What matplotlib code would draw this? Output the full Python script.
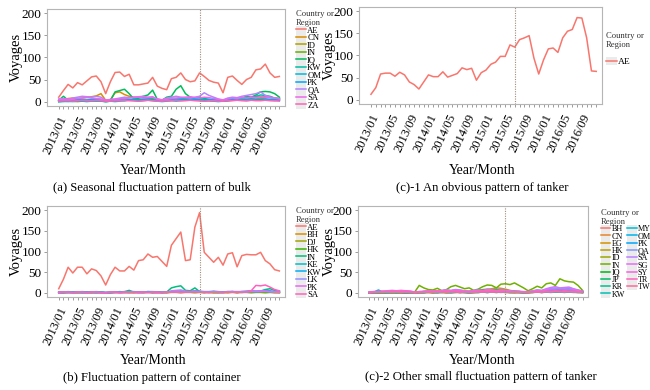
import numpy as np
import matplotlib
matplotlib.use('Agg')
import matplotlib.pyplot as plt
from matplotlib.patches import Rectangle

plt.rcParams['font.family'] = ['Liberation Serif', 'DejaVu Serif']

# ---------------- data ----------------
months = [f"{y}/{m:02d}" for y in range(2013, 2017) for m in range(1, 13)]
tick_labels = months[::4]
split_month = "2015/07"

# (a) bulk
bulk_names = ["AE", "CN", "ID", "IN", "IQ", "KW", "OM", "PK", "QA", "SA", "ZA"]
AE_a = [10, 25, 39, 31, 43, 38, 47, 56, 58, 45, 18, 45, 66, 67, 57, 62, 38, 38, 40, 42, 55, 35, 30, 27,
        52, 55, 65, 50, 45, 47, 65, 57, 48, 44, 42, 20, 55, 58, 48, 39, 50, 55, 72, 74, 85, 65, 55, 57]
CN_a = [2, 5, 7, 8, 7, 8, 10, 11, 13, 18, 3, 4, 20, 22, 16, 12, 10, 10, 9, 8, 8, 5, 4, 6,
        8, 7, 6, 8, 9, 7, 5, 6, 4, 3, 3, 2, 4, 5, 6, 5, 6, 7, 8, 6, 9, 10, 8, 7]
ID_a = [1, 2, 3, 2, 3, 4, 3, 5, 4, 3, 1, 2, 4, 5, 6, 4, 3, 4, 5, 4, 3, 2, 1, 2,
        3, 4, 5, 6, 4, 3, 4, 3, 2, 2, 1, 1, 2, 3, 4, 3, 4, 5, 4, 6, 5, 4, 5, 4]
IN_a = [0, 1, 2, 1, 0, 1, 2, 3, 2, 1, 0, 1, 3, 5, 4, 3, 6, 8, 9, 7, 8, 4, 2, 3,
        5, 6, 8, 7, 6, 5, 6, 4, 3, 2, 1, 1, 3, 5, 6, 4, 8, 9, 12, 10, 11, 9, 8, 6]
IQ_a = [3, 12, 3, 2, 3, 2, 3, 2, 3, 2, 1, 2, 22, 25, 28, 18, 6, 8, 12, 15, 26, 5, 3, 10,
        12, 28, 36, 18, 10, 8, 10, 7, 5, 4, 3, 2, 5, 8, 6, 8, 12, 10, 15, 22, 23, 22, 18, 10]
KW_a = [0, 0, 1, 0, 1, 2, 1, 2, 1, 2, 0, 1, 2, 3, 2, 4, 5, 4, 3, 5, 4, 2, 1, 3,
        4, 5, 6, 5, 6, 8, 6, 5, 4, 3, 2, 1, 2, 4, 6, 8, 10, 9, 12, 15, 14, 12, 8, 5]
OM_a = [0, 1, 0, 1, 2, 1, 0, 1, 2, 1, 0, 1, 0, 1, 2, 3, 2, 1, 2, 3, 2, 1, 0, 1,
        2, 1, 2, 3, 4, 3, 2, 1, 2, 1, 0, 1, 2, 3, 4, 3, 2, 3, 4, 5, 4, 3, 2, 3]
PK_a = [2, 3, 4, 3, 5, 4, 3, 5, 4, 3, 2, 3, 4, 5, 6, 5, 4, 3, 5, 6, 4, 3, 2, 4,
        5, 6, 5, 4, 6, 5, 4, 3, 5, 4, 3, 2, 4, 5, 4, 3, 5, 6, 5, 4, 6, 5, 4, 3]
QA_a = [6, 7, 5, 8, 10, 12, 11, 10, 12, 10, 3, 5, 6, 8, 10, 9, 10, 11, 12, 10, 11, 5, 4, 8,
        10, 12, 10, 9, 8, 10, 12, 20, 14, 10, 6, 4, 8, 10, 9, 12, 14, 16, 18, 22, 14, 10, 8, 6]
SA_a = [4, 5, 6, 5, 7, 8, 9, 8, 7, 6, 3, 4, 5, 6, 7, 8, 9, 10, 8, 9, 10, 6, 4, 5,
        7, 8, 9, 10, 11, 9, 8, 10, 9, 7, 5, 3, 6, 8, 7, 9, 8, 10, 9, 11, 10, 9, 8, 7]
ZA_a = [1, 2, 2, 1, 2, 3, 2, 2, 3, 2, 1, 1, 2, 2, 3, 2, 2, 1, 2, 3, 2, 1, 1, 2,
        2, 3, 2, 2, 3, 2, 2, 1, 2, 2, 1, 1, 2, 2, 3, 2, 2, 3, 2, 2, 3, 2, 2, 1]
bulk_vals = [AE_a, CN_a, ID_a, IN_a, IQ_a, KW_a, OM_a, PK_a, QA_a, SA_a, ZA_a]

# (b) container
cont_names = ["AE", "BH", "DJ", "HK", "IN", "KE", "KW", "LK", "PK", "SA"]
AE_b = [10, 33, 62, 48, 62, 62, 46, 58, 54, 41, 19, 44, 62, 53, 53, 64, 55, 78, 80, 94, 86, 88, 76, 64,
        115, 131, 147, 78, 80, 159, 194, 98, 86, 74, 86, 67, 94, 97, 63, 90, 93, 92, 92, 98, 78, 70, 56, 53]
BH_b = [1, 1, 2, 1, 1, 2, 1, 1, 2, 1, 0, 1, 1, 2, 1, 1, 2, 1, 1, 2, 1, 1, 0, 1,
        2, 2, 3, 2, 2, 3, 2, 2, 1, 1, 2, 1, 1, 2, 1, 2, 2, 3, 2, 3, 2, 2, 1, 1]
DJ_b = [0, 0, 1, 0, 0, 1, 0, 0, 1, 0, 0, 0, 1, 0, 1, 0, 0, 1, 0, 1, 0, 0, 1, 0,
        1, 1, 0, 1, 1, 0, 1, 0, 1, 0, 0, 1, 0, 1, 0, 1, 1, 0, 1, 1, 0, 1, 0, 0]
HK_b = [1, 1, 1, 2, 1, 1, 2, 1, 1, 1, 0, 1, 2, 1, 1, 2, 1, 1, 2, 2, 1, 2, 1, 1,
        2, 3, 2, 2, 3, 2, 2, 1, 2, 1, 1, 1, 2, 2, 1, 2, 2, 3, 3, 2, 3, 2, 2, 1]
IN_b = [0, 0, 1, 0, 1, 0, 0, 1, 0, 1, 0, 0, 1, 2, 3, 6, 2, 1, 1, 2, 1, 2, 1, 2,
        12, 15, 17, 6, 5, 12, 3, 2, 1, 2, 1, 1, 2, 3, 2, 1, 2, 3, 2, 4, 8, 10, 6, 4]
KE_b = [2, 2, 3, 2, 2, 3, 2, 2, 3, 2, 1, 2, 2, 3, 2, 2, 3, 2, 2, 3, 3, 2, 2, 2,
        3, 3, 4, 3, 3, 4, 3, 2, 2, 3, 2, 2, 3, 3, 2, 3, 3, 4, 3, 4, 3, 3, 2, 2]
KW_b = [1, 2, 1, 2, 2, 1, 2, 2, 1, 2, 1, 1, 2, 2, 2, 3, 2, 2, 2, 3, 2, 2, 1, 2,
        3, 4, 4, 3, 3, 5, 4, 3, 3, 4, 3, 2, 3, 3, 3, 3, 4, 5, 4, 5, 6, 5, 3, 2]
LK_b = [1, 1, 1, 1, 1, 1, 1, 1, 1, 1, 0, 1, 1, 1, 1, 1, 2, 1, 1, 1, 1, 1, 1, 1,
        5, 6, 7, 4, 3, 4, 3, 2, 2, 2, 2, 1, 2, 3, 2, 3, 3, 4, 4, 5, 4, 3, 2, 2]
PK_b = [0, 1, 1, 0, 1, 1, 0, 1, 1, 0, 0, 1, 1, 0, 1, 1, 1, 0, 1, 1, 1, 0, 1, 1,
        2, 2, 1, 2, 2, 3, 2, 1, 1, 2, 1, 1, 2, 2, 1, 2, 2, 3, 3, 3, 4, 3, 2, 1]
SA_b = [2, 2, 2, 1, 2, 2, 1, 2, 2, 1, 1, 2, 2, 1, 2, 2, 1, 2, 2, 1, 2, 2, 1, 2,
        2, 3, 2, 2, 3, 2, 2, 2, 1, 2, 2, 1, 2, 2, 2, 2, 3, 5, 18, 17, 19, 14, 8, 5]
cont_vals = [AE_b, BH_b, DJ_b, HK_b, IN_b, KE_b, KW_b, LK_b, PK_b, SA_b]

# (c)-1 tanker, obvious pattern
tank1_names = ["AE"]
AE_c1 = [12, 27, 58, 60, 60, 53, 62, 56, 40, 34, 24, 40, 56, 52, 52, 63, 51, 55, 59, 72, 68, 71, 44, 61,
         67, 80, 85, 98, 98, 124, 119, 136, 140, 145, 94, 58, 90, 115, 117, 107, 140, 155, 159, 186, 185, 140, 65, 64]
tank1_vals = [AE_c1]

# (c)-2 tanker, small fluctuation
tank2_names = ["BH", "CN", "EG", "HK", "ID", "IN", "IQ", "JP", "KR", "KW",
               "MY", "OM", "PK", "QA", "SA", "SG", "SY", "TR", "TW"]
BH_c = [1, 1, 2, 1, 1, 2, 1, 1, 1, 2, 1, 1, 2, 1, 1, 2, 2, 1, 1, 2, 1, 2, 1, 1,
        2, 2, 3, 2, 3, 2, 2, 1, 2, 1, 1, 2, 2, 3, 2, 2, 3, 2, 3, 2, 2, 3, 2, 1]
CN_c = [0, 1, 0, 1, 1, 2, 1, 1, 0, 1, 0, 1, 1, 2, 1, 2, 3, 2, 3, 4, 2, 1, 3, 5,
        6, 8, 9, 10, 12, 11, 9, 6, 4, 3, 2, 1, 2, 3, 5, 6, 8, 7, 6, 8, 7, 6, 5, 3]
EG_c = [1, 2, 1, 2, 2, 3, 2, 2, 1, 2, 1, 2, 2, 3, 2, 3, 4, 3, 3, 4, 5, 4, 3, 4,
        5, 6, 7, 6, 5, 6, 5, 4, 3, 3, 2, 2, 3, 4, 5, 4, 5, 6, 5, 6, 5, 4, 3, 2]
HK_c = [0, 0, 1, 0, 1, 0, 1, 0, 0, 1, 0, 0, 1, 1, 0, 1, 1, 0, 1, 1, 2, 1, 0, 1,
        1, 2, 1, 2, 1, 2, 1, 1, 0, 1, 0, 0, 1, 2, 1, 2, 2, 3, 2, 2, 3, 2, 1, 1]
ID_c = [0, 1, 1, 0, 1, 1, 2, 1, 0, 1, 0, 1, 1, 2, 1, 1, 2, 1, 2, 2, 1, 2, 1, 1,
        2, 3, 2, 3, 2, 3, 2, 1, 1, 2, 1, 1, 2, 3, 2, 3, 2, 4, 3, 3, 4, 3, 2, 1]
IN_c = [0, 0, 1, 0, 1, 1, 0, 1, 0, 1, 2, 18, 12, 8, 7, 11, 5, 8, 15, 18, 14, 10, 12, 6,
        9, 15, 19, 18, 12, 21, 22, 20, 24, 18, 12, 5, 10, 16, 12, 22, 24, 18, 34, 29, 27, 26, 18, 6]
IQ_c = [1, 2, 1, 2, 3, 2, 3, 2, 1, 2, 1, 2, 3, 4, 3, 4, 5, 4, 5, 6, 5, 4, 3, 5,
        6, 7, 8, 7, 8, 7, 6, 5, 4, 3, 2, 2, 4, 6, 5, 7, 8, 9, 8, 10, 9, 8, 6, 4]
JP_c = [0, 1, 0, 1, 1, 0, 1, 1, 0, 1, 0, 1, 1, 2, 1, 2, 1, 2, 2, 3, 2, 2, 1, 2,
        3, 4, 3, 4, 3, 4, 3, 2, 2, 1, 1, 1, 2, 3, 2, 3, 3, 4, 3, 4, 3, 3, 2, 1]
KR_c = [0, 0, 1, 0, 0, 1, 0, 1, 0, 0, 0, 1, 0, 1, 1, 0, 1, 1, 0, 1, 1, 1, 0, 1,
        1, 2, 1, 2, 2, 1, 2, 1, 1, 1, 0, 1, 1, 2, 1, 2, 2, 2, 3, 2, 2, 2, 1, 1]
KW_c = [1, 2, 2, 1, 2, 3, 2, 3, 2, 2, 1, 2, 3, 2, 3, 4, 3, 4, 3, 5, 4, 3, 2, 4,
        5, 4, 6, 5, 6, 5, 4, 3, 3, 2, 2, 2, 3, 5, 4, 6, 7, 8, 9, 8, 9, 7, 5, 3]
MY_c = [1, 2, 7, 2, 1, 2, 1, 2, 1, 1, 0, 1, 1, 2, 1, 1, 2, 1, 1, 2, 1, 1, 0, 1,
        1, 2, 1, 2, 1, 2, 1, 1, 1, 1, 0, 1, 1, 2, 1, 2, 1, 2, 2, 1, 2, 1, 1, 1]
OM_c = [1, 1, 2, 2, 3, 3, 2, 3, 2, 2, 1, 2, 2, 3, 3, 2, 3, 3, 4, 3, 4, 3, 2, 3,
        4, 3, 4, 5, 4, 3, 4, 3, 2, 3, 2, 2, 3, 4, 3, 4, 5, 4, 5, 4, 5, 4, 3, 2]
PK_c = [0, 1, 1, 2, 1, 2, 2, 1, 1, 2, 1, 1, 2, 2, 3, 2, 2, 3, 2, 3, 3, 2, 2, 3,
        3, 4, 3, 4, 3, 4, 3, 3, 2, 2, 2, 1, 2, 3, 3, 4, 4, 5, 4, 5, 4, 4, 3, 2]
QA_c = [1, 2, 2, 3, 4, 3, 2, 3, 2, 2, 1, 2, 3, 4, 3, 4, 5, 6, 5, 7, 6, 4, 3, 5,
        6, 5, 7, 6, 5, 6, 5, 4, 3, 3, 2, 2, 4, 6, 5, 7, 8, 9, 10, 9, 8, 7, 6, 3]
SA_c = [2, 3, 3, 4, 5, 6, 5, 4, 5, 4, 2, 3, 4, 5, 4, 5, 6, 7, 6, 8, 7, 5, 4, 6,
        7, 6, 8, 7, 6, 7, 6, 5, 4, 4, 3, 3, 5, 7, 6, 10, 13, 15, 12, 13, 14, 10, 7, 4]
SG_c = [1, 2, 2, 3, 3, 4, 3, 5, 4, 3, 1, 2, 3, 4, 3, 4, 5, 6, 5, 6, 5, 4, 3, 4,
        5, 4, 6, 5, 4, 5, 4, 3, 3, 2, 2, 2, 3, 5, 4, 8, 11, 12, 10, 11, 12, 9, 6, 3]
SY_c = [2, 3, 3, 4, 4, 5, 5, 6, 5, 4, 2, 3, 3, 4, 4, 5, 4, 5, 4, 5, 4, 3, 3, 4,
        4, 5, 4, 5, 4, 4, 3, 3, 2, 2, 2, 1, 2, 3, 3, 4, 4, 5, 4, 5, 4, 4, 3, 2]
TR_c = [1, 1, 2, 2, 2, 3, 2, 2, 3, 2, 1, 1, 2, 2, 3, 2, 2, 3, 2, 3, 2, 2, 1, 2,
        3, 3, 2, 3, 3, 2, 3, 2, 2, 2, 1, 1, 2, 3, 2, 3, 3, 4, 3, 4, 3, 3, 2, 2]
TW_c = [0, 1, 1, 1, 2, 1, 2, 1, 1, 1, 0, 1, 1, 2, 1, 2, 2, 1, 2, 2, 1, 2, 1, 1,
        2, 2, 3, 2, 2, 3, 2, 2, 1, 1, 1, 1, 2, 2, 2, 3, 2, 3, 3, 2, 3, 2, 2, 1]
tank2_vals = [BH_c, CN_c, EG_c, HK_c, ID_c, IN_c, IQ_c, JP_c, KR_c, KW_c,
              MY_c, OM_c, PK_c, QA_c, SA_c, SG_c, SY_c, TR_c, TW_c]

yticks = [0, 50, 100, 150, 200]

captions = ["(a) Seasonal fluctuation pattern of bulk",
            "(c)-1 An obvious pattern of tanker",
            "(b) Fluctuation pattern of container",
            "(c)-2 Other small fluctuation pattern of tanker"]


# ---------------- helpers ----------------
def hue_pal(n, h0=15, h1=375, c=100, l=65):
    hues = np.linspace(h0, h1, n + 1)[:n] % 360
    Xn, Yn, Zn = 95.047, 100.0, 108.883
    un = 4 * Xn / (Xn + 15 * Yn + 3 * Zn)
    vn = 9 * Yn / (Xn + 15 * Yn + 3 * Zn)
    out = []
    for h in hues:
        hr = np.deg2rad(h)
        u, v = c * np.cos(hr), c * np.sin(hr)
        Y = Yn * ((l + 16) / 116) ** 3
        up = u / (13 * l) + un
        vp = v / (13 * l) + vn
        X = 9 * Y * up / (4 * vp)
        Z = -X / 3 - 5 * Y + 3 * Y / vp
        X, Y, Z = X / 100, Y / 100, Z / 100
        r = 3.240479 * X - 1.537150 * Y - 0.498535 * Z
        g = -0.969256 * X + 1.875992 * Y + 0.041556 * Z
        b = 0.055648 * X - 0.204043 * Y + 1.057311 * Z

        def gam(t):
            t = min(max(t, 0.0), 1.0)
            return 12.92 * t if t <= 0.0031308 else 1.055 * t ** (1 / 2.4) - 0.055
        out.append((gam(r), gam(g), gam(b)))
    return out


W, H = 650, 390
fig = plt.figure(figsize=(W / 100, H / 100), dpi=100)


def px_axes(l, t, r, b):
    return fig.add_axes([l / W, 1 - b / H, (r - l) / W, (b - t) / H])


def ftext(x, y, s, **kw):
    fig.text(x / W, 1 - y / H, s, **kw)


def panel(box, names, vals, leg_xy, ncol=1, ylab_x=16, xlab_xy=None, cap_xy=None,
          caption="", leg_title='Country or\nRegion', leg_fs=6.2):
    ax = px_axes(*box)
    cols = hue_pal(len(names))
    x = np.arange(len(months))
    handles = []
    for name, v, c in zip(names, vals, cols):
        ln, = ax.plot(x, v, color=c, lw=1.1, solid_joinstyle='round')
        bg = Rectangle((0, 0), 1, 1, facecolor='#EBEBEB', edgecolor='none')
        handles.append((bg, ln))
    ax.axvline(months.index(split_month), color='#A08C7C', lw=0.8, ls=(0, (1, 1.2)))
    ax.set_xlim(-2.5, 48.2)
    ax.set_ylim(-10, 210)
    ax.set_yticks(yticks)
    ax.set_yticklabels([str(t) for t in yticks], fontsize=9.5)
    ax.set_xticks(x)
    ax.set_xticklabels([m if m in tick_labels else "" for m in months], fontsize=9,
                       rotation=65, ha='right', va='top', rotation_mode='anchor')
    ax.tick_params(axis='both', length=2, width=0.6, color='#8C8C8C', pad=2)
    ax.tick_params(axis='x', pad=3.5)
    for s in ax.spines.values():
        s.set_color('#B5B5B5')
        s.set_linewidth(0.8)
    leg = ax.legend(handles=handles, labels=names, loc='upper left',
                    bbox_to_anchor=(leg_xy[0] / W, 1 - leg_xy[1] / H),
                    bbox_transform=fig.transFigure, frameon=False,
                    fontsize=leg_fs, title=leg_title, title_fontsize=6.2,
                    labelspacing=-0.15, handlelength=1.15, handleheight=1.0,
                    handletextpad=0.15, borderaxespad=0, borderpad=0,
                    columnspacing=0.25, ncol=ncol, alignment='left')
    leg.get_title().set_color('#333333')
    ftext(ylab_x, (box[1] + box[3]) / 2, "Voyages", rotation=90, ha='center', va='center', fontsize=10.5)
    ftext(xlab_xy[0], xlab_xy[1], "Year/Month", ha='center', va='center', fontsize=10)
    ftext(cap_xy[0], cap_xy[1], caption, ha='center', va='center', fontsize=9.1)
    return ax


panel((47, 9, 285, 106), bulk_names, bulk_vals, (296, 10), ylab_x=16,
      xlab_xy=(153, 170), cap_xy=(152, 188), caption=captions[0])
panel((359, 7, 602, 104), tank1_names, tank1_vals, (606, 32), ylab_x=329,
      xlab_xy=(482, 170), cap_xy=(482, 188), caption=captions[1],
      leg_title='Country or\nRegion\n', leg_fs=6.8)
panel((47, 206, 285, 297), cont_names, cont_vals, (296, 207), ylab_x=16,
      xlab_xy=(153, 361), cap_xy=(152, 378), caption=captions[2])
panel((358, 206, 588, 297), tank2_names, tank2_vals, (601, 209), ncol=2, ylab_x=329,
      xlab_xy=(482, 361), cap_xy=(481, 377), caption=captions[3], leg_fs=5.9)

fig.savefig('out.png', dpi=100)
